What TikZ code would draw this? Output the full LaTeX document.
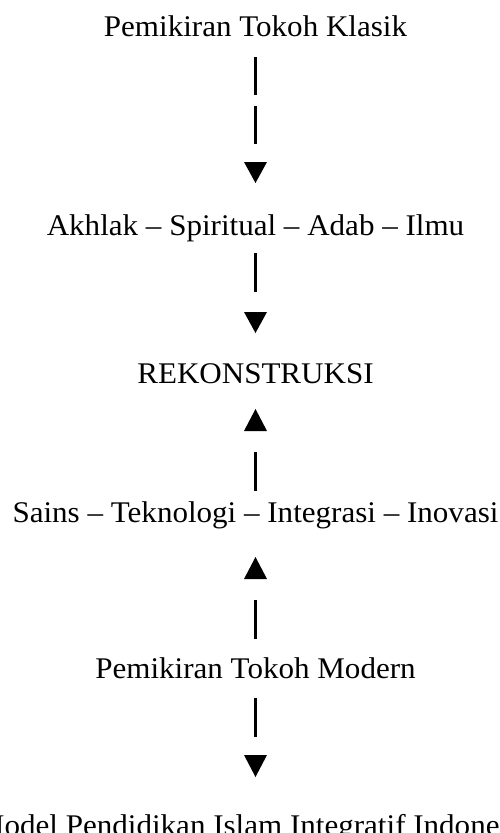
\documentclass[tikz,border=0pt]{standalone}
\usepackage{fontspec}
\setmainfont{Liberation Serif}
\begin{document}
\begin{tikzpicture}[x=1pt,y=-1pt,
  lbl/.style={anchor=base,inner sep=0pt,xscale=1.035,font=\fontsize{30}{32}\selectfont},
  bar/.style={line width=2.6pt},
  tri/.style={fill=black,draw=none}]
\useasboundingbox (0,0) rectangle (499,833);
\clip (0,0) rectangle (499,833);
\node[lbl] (klasik) at (255.5,36) {Pemikiran Tokoh Klasik};
\node[lbl] (akhlak) at (255.5,235) {Akhlak – Spiritual – Adab – Ilmu};
\node[lbl] (rekon) at (255.5,383) {REKONSTRUKSI};
\node[lbl] (sains) at (255.5,522) {Sains – Teknologi – Integrasi – Inovasi};
\node[lbl] (modern) at (255.5,678) {Pemikiran Tokoh Modern};
\node[lbl] (model) at (255.5,835) {Model Pendidikan Islam Integratif Indonesia};
% klasik -> akhlak
\draw[bar] (255.5,57) -- (255.5,95);
\draw[bar] (255.5,106) -- (255.5,144);
\fill[tri] (244,162) -- (267,162) -- (255.5,183) -- cycle;
% akhlak -> rekon
\draw[bar] (255.5,253) -- (255.5,292);
\fill[tri] (244,312) -- (267,312) -- (255.5,333) -- cycle;
% sains -> rekon
\fill[tri] (244,431) -- (267,431) -- (255.5,409) -- cycle;
\draw[bar] (255.5,452) -- (255.5,491);
% modern -> sains
\fill[tri] (244,579) -- (267,579) -- (255.5,557) -- cycle;
\draw[bar] (255.5,600) -- (255.5,639);
% modern -> model
\draw[bar] (255.5,698) -- (255.5,737);
\fill[tri] (244,755) -- (267,755) -- (255.5,777) -- cycle;
\end{tikzpicture}
\end{document}
